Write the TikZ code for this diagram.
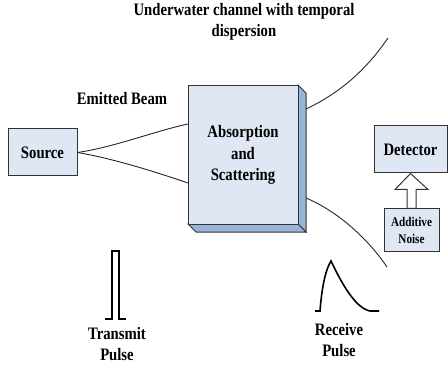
\documentclass[tikz,border=0pt]{standalone}
\usepackage{fontspec}
\setmainfont[FakeStretch=0.84]{Liberation Serif}
\begin{document}
\begin{tikzpicture}[x=1pt,y=-1pt,
  every node/.style={font=\bfseries\fontsize{17.5}{21.5}\selectfont, inner sep=0pt},
  blockbox/.style={draw=black!80, line width=1pt, fill=boxblue},
  wire/.style={draw=black!85, line width=0.9pt},
  pulse/.style={draw=black, line width=1.6pt},
  lbl/.style={align=center}]
\definecolor{boxblue}{HTML}{DFE7F5}
\definecolor{sideblue}{HTML}{98B4DA}
\useasboundingbox (0,0) rectangle (448,369);

% 3-D channel block: side and bottom faces behind the front face
\fill[sideblue, draw=black!80, line width=1pt] (298,85) -- (306,93) -- (306,232) -- (298,224) -- cycle;
\fill[sideblue, draw=black!80, line width=1pt] (188,224) -- (298,224) -- (306,232) -- (196,232) -- cycle;
\node[blockbox, minimum width=110pt, minimum height=139pt, anchor=north west] (absorb) at (188,85) {};
\node[lbl] (absorbtxt) at (243,155) {Absorption\\and\\Scattering};

% Source, detector and noise blocks
\node[blockbox, minimum width=69pt, minimum height=47pt] (source) at (42.5,152.5) {Source};
\node[blockbox, minimum width=73pt, minimum height=47pt] (detector) at (410.5,149.5) {Detector};
\node[blockbox, minimum width=55pt, minimum height=42pt, lbl,
      font=\bfseries\fontsize{13.3}{17}\selectfont] (noise) at (411.5,230) {Additive\\Noise};

% hollow arrow from the noise block up into the detector
\draw[line width=1pt, draw=black!80, fill=white]
  ([shift={(-4.5,0)}]noise.north) -- ++(0,-19) -- ++(-12,0) -- (detector.south)
  -- ([shift={(16.5,-19)}]noise.north) -- ([shift={(4.5,-19)}]noise.north)
  -- ([shift={(4.5,0)}]noise.north) -- cycle;

% emitted beam from the source into the block
\coordinate (inUp) at (188,124);
\coordinate (inDn) at (188,183);
\draw[wire] (source.east) .. controls (115,147) and (155,131) .. (inUp);
\draw[wire] (source.east) .. controls (110,158) and (150,170) .. (inDn);

% dispersed beam leaving the block
\coordinate (outUpA) at (306,109);
\coordinate (outUpB) at (388,38);
\coordinate (outDnA) at (306,198);
\coordinate (outDnB) at (387,267);
\draw[wire] (outUpA) .. controls (340,93) and (366,70) .. (outUpB);
\draw[wire] (outDnA) .. controls (335,210) and (366,236) .. (outDnB);

% transmit pulse
\coordinate (tx0) at (105,319);
\draw[pulse] (tx0) -- ++(7,0) -- ++(0,-68) -- ++(7,0) -- ++(0,68) -- ++(7,0);

% receive pulse
\coordinate (rx0) at (315,311);
\coordinate (rxPeak) at (331,261);
\draw[pulse] (rx0) -- ++(5,0) .. controls (322,285) and (326,269) .. (rxPeak)
  .. controls (341,282) and (355,308) .. (370,311) -- (379,311);

% labels
\node[lbl] (title) at (244,22) {Underwater channel with temporal\\dispersion};
\node (beam) at (122,99) {Emitted Beam};
\node[lbl] (txlbl) at (117,344) {Transmit\\Pulse};
\node[lbl] (rxlbl) at (339,340) {Receive\\Pulse};
\end{tikzpicture}
\end{document}
